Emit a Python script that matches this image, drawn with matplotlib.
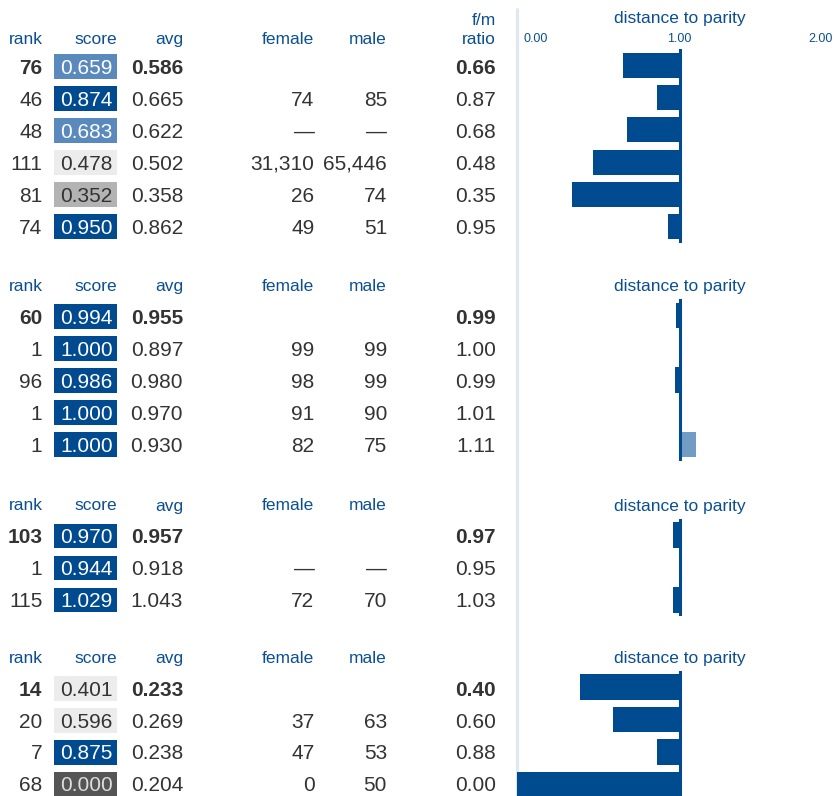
import matplotlib
matplotlib.use("Agg")
import matplotlib.pyplot as plt
from matplotlib.patches import Rectangle

plt.rcParams["font.family"] = ["Liberation Sans", "DejaVu Sans"]

# ---- data (first row of every block is the summary row) ----
ranks = [[76, 46, 48, 111, 81, 74], [60, 1, 96, 1, 1], [103, 1, 115], [14, 20, 7, 68]]
scores = [
    [0.659, 0.874, 0.683, 0.478, 0.352, 0.950],
    [0.994, 1.000, 0.986, 1.000, 1.000],
    [0.970, 0.944, 1.029],
    [0.401, 0.596, 0.875, 0.000],
]
avgs = [
    [0.586, 0.665, 0.622, 0.502, 0.358, 0.862],
    [0.955, 0.897, 0.980, 0.970, 0.930],
    [0.957, 0.918, 1.043],
    [0.233, 0.269, 0.238, 0.204],
]
females = [[None, 74, None, 31310, 26, 49], [None, 99, 98, 91, 82], [None, None, 72], [None, 37, 47, 0]]
males = [[None, 85, None, 65446, 74, 51], [None, 99, 99, 90, 75], [None, None, 70], [None, 63, 53, 50]]
ratios = [
    [0.66, 0.87, 0.68, 0.48, 0.35, 0.95],
    [0.99, 1.00, 0.99, 1.01, 1.11],
    [0.97, 0.95, 1.03],
    [0.40, 0.60, 0.88, 0.00],
]
parity = [
    [0.65, 0.86, 0.675, 0.47, 0.34, 0.93],
    [0.98, 1.00, 0.97, 1.00, 1.10],
    [0.96, 1.00, 0.96],
    [0.39, 0.59, 0.86, 0.00],
]
axis_ticks = [0.0, 1.0, 2.0]

# ---- layout (pixels) ----
W, H = 840, 796
header_base = [44.3, 290.7, 510.5, 663.3]
first_row = [66.6, 316.5, 536.0, 688.3]
pitch = 31.95
x0_px, unit_px = 517, 162.5  # where 0 sits and how wide 1.0 is

BLUE_TXT = "#0b4f92"
BODY = "#333333"
DARK = "#004a8f"
LIGHT = "#739cc4"
FS = 15
HFS = 12.5


def score_colors(v):
    if v >= 0.8:
        return DARK, "white"
    if v >= 0.6:
        return "#5a89bd", "white"
    if v >= 0.4:
        return "#ececec", BODY
    if v >= 0.2:
        return "#b3b3b3", BODY
    return "#555555", "#dddddd"


def fmt_count(v):
    return "\u2014" if v is None else f"{v:,}"


fig = plt.figure(figsize=(W / 100, H / 100), dpi=100)
ax = fig.add_axes([0, 0, 1, 1])
ax.set_xlim(0, W)
ax.set_ylim(H, 0)
ax.axis("off")

# light separator between table and bars
ax.plot([516.5, 516.5], [8, H], color="#dfe7ef", lw=2.3, solid_capstyle="butt")

for s in range(len(ranks)):
    hb = header_base[s]
    hdr = dict(color=BLUE_TXT, fontsize=HFS, va="baseline", ha="right")
    ax.text(42.5, hb, "rank", **hdr)
    ax.text(117, hb, "score", **hdr)
    ax.text(183, hb, "avg", **hdr)
    ax.text(314.5, hb, "female", **hdr)
    ax.text(387, hb, "male", **hdr)
    if s == 0:
        ax.text(496, 25, "f/m", **hdr)
        ax.text(496, hb, "ratio", **hdr)
        ax.text(679.5, 23, "distance to parity", color=BLUE_TXT, fontsize=HFS,
                va="baseline", ha="center")
    else:
        ax.text(679.5, hb, "distance to parity", color=BLUE_TXT, fontsize=HFS,
                va="baseline", ha="center")

    n = len(ranks[s])
    for i in range(n):
        yc = first_row[s] + i * pitch
        yb = yc + 7.3
        wt = "bold" if i == 0 else "normal"
        body = dict(color=BODY, fontsize=FS, va="baseline", ha="right")
        ax.text(42.5, yb, str(ranks[s][i]), fontweight=wt, **body)

        bg, fg = score_colors(scores[s][i])
        ax.add_patch(Rectangle((54, yc - 12.3), 63, 24.6, color=bg, lw=0))
        ax.text(112.5, yb, f"{scores[s][i]:.3f}", color=fg, fontsize=FS,
                va="baseline", ha="right")

        ax.text(183, yb, f"{avgs[s][i]:.3f}", fontweight=wt, **body)
        if i > 0:
            ax.text(314.5, yb, fmt_count(females[s][i]), **body)
            ax.text(387, yb, fmt_count(males[s][i]), **body)
        ax.text(496, yb, f"{ratios[s][i]:.2f}", fontweight=wt, **body)

    # bar panel for this block
    top_px = first_row[s] - pitch / 2 - 1.5
    bot_px = first_row[s] + (n - 0.5) * pitch + 0.5
    bax = fig.add_axes([x0_px / W, 1 - bot_px / H, (W - x0_px) / W, (bot_px - top_px) / H])
    bax.set_xlim(0, (W - x0_px) / unit_px)
    bax.set_ylim(n - 0.5, -0.5)
    bax.axis("off")
    vals = parity[s]
    cols = [LIGHT if v > 1 else DARK for v in vals]
    bax.barh(range(n), [v - 1 for v in vals], left=1, height=0.78, color=cols, lw=0)
    bax.axvline(1, color=DARK, lw=2.2, zorder=3)

    if s == 0:
        for t in axis_ticks:
            ha = "left" if t == axis_ticks[0] else ("right" if t == axis_ticks[-1] else "center")
            off = {"left": 6, "center": 0, "right": -9}[ha]
            ax.text(x0_px + t * unit_px + off, 42.3, f"{t:.2f}", color=BLUE_TXT,
                    fontsize=9, ha=ha, va="baseline")

fig.savefig("out.png", dpi=100)
